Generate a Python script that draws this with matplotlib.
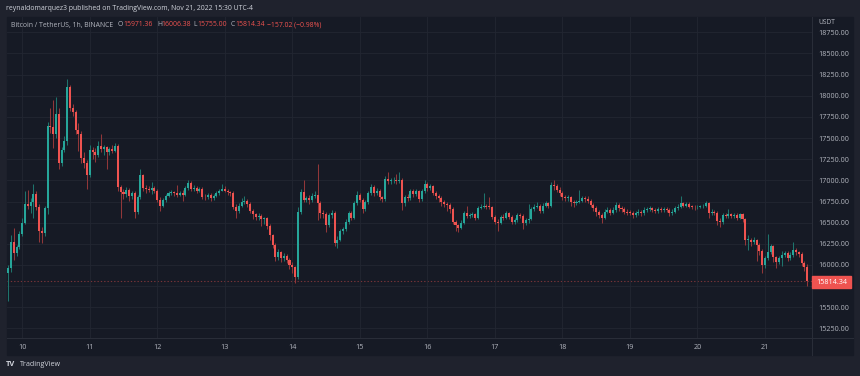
"""
BTC/USDT 1h candles, Binance, Nov 9 19:00 to Nov 21 15:00 (UTC-4)
TradingView dark theme look-alike
"""
import numpy as np
import matplotlib.pyplot as plt
from matplotlib.patches import Rectangle
from matplotlib.lines import Line2D

#%% Data (one value per hourly candle)
first_open = 15900.0

close = [
    15960, 16270, 16140, 16210, 16370,                       # Nov 9 19:00-23:00
    16500, 16720, 16700, 16745, 16840, 16690, 16400, 16380,  # Nov 10
    16670, 17640, 17630, 17550, 17790, 17200, 17360, 17460,
    18100, 17860, 17810, 17600, 17550, 17270, 17210, 17065,
    17360, 17330, 17300, 17410, 17370, 17390, 17330, 17370,  # Nov 11
    17350, 17410, 16920, 16860, 16840, 16890, 16810, 16850,
    16625, 16800, 17065, 16910, 16900, 16890, 16910, 16880,
    16770, 16700, 16770, 16815, 16850, 16865, 16845, 16830,  # Nov 12
    16850, 16830, 16910, 16970, 16900, 16910, 16880, 16900,
    16805, 16800, 16830, 16790, 16820, 16850, 16880, 16900,
    16880, 16860, 16850, 16690, 16640, 16700, 16740, 16760,  # Nov 13
    16720, 16640, 16600, 16570, 16580, 16540, 16550, 16460,
    16350, 16240, 16100, 16150, 16080, 16110, 16060, 16000,
    15975, 15860, 16630, 16860, 16770, 16790, 16770, 16815,  # Nov 14
    16830, 16730, 16615, 16600, 16470, 16590, 16615, 16260,
    16300, 16400, 16420, 16510, 16615, 16560, 16730, 16830,
    16770, 16660, 16745, 16850, 16920, 16850, 16880, 16800,  # Nov 15
    16780, 17020, 16990, 17000, 17005, 16990, 17010, 16730,
    16800, 16790, 16880, 16840, 16870, 16780, 16870, 16960,
    16910, 16930, 16850, 16815, 16790, 16745, 16720, 16710,  # Nov 16
    16660, 16510, 16470, 16440, 16500, 16615, 16580, 16590,
    16600, 16560, 16675, 16690, 16700, 16690, 16685, 16570,
    16510, 16500, 16570, 16560, 16615, 16570, 16510, 16530,  # Nov 17
    16590, 16580, 16500, 16530, 16545, 16660, 16690, 16700,
    16640, 16700, 16730, 16700, 16945, 16930, 16890, 16850,
    16800, 16790, 16800, 16745, 16730, 16745, 16760, 16790,  # Nov 18
    16780, 16760, 16710, 16670, 16630, 16595, 16555, 16630,
    16650, 16620, 16650, 16710, 16670, 16660, 16630, 16620,
    16615, 16595, 16615, 16630, 16610, 16650, 16660, 16670,  # Nov 19
    16650, 16640, 16660, 16650, 16665, 16655, 16610, 16630,
    16670, 16690, 16735, 16700, 16720, 16690, 16685, 16680,
    16690, 16692, 16700, 16735, 16615, 16630, 16620, 16520,  # Nov 20
    16510, 16590, 16580, 16600, 16580, 16595, 16560, 16600,
    16540, 16295, 16300, 16270, 16290, 16235, 16170, 16000,
    16080, 16155, 16225, 16095, 16035, 16080, 16120, 16140,  # Nov 21
    16080, 16120, 16180, 16150, 16130, 16025, 15971.36, 15814.34,
]

high = [
    16000, 16350, 16440, 16240, 16400,
    16560, 16870, 16890, 16790, 16960, 16880, 16720, 16450,
    16700, 17690, 17860, 17950, 17980, 17850, 17400, 17520,
    18200, 18130, 17900, 17830, 17680, 17580, 17330, 17240,
    17420, 17400, 17380, 17470, 17550, 17420, 17410, 17400,
    17420, 17440, 17430, 16950, 16900, 16920, 16910, 16880,
    16870, 16830, 17130, 17080, 16950, 16930, 16980, 16930,
    16900, 16800, 16790, 16840, 16870, 16890, 16880, 16950,
    16870, 16890, 16930, 17000, 16990, 16940, 16930, 16920,
    16920, 16840, 16850, 16850, 16840, 16870, 16900, 16960,
    16930, 16900, 16880, 16870, 16720, 16730, 16790, 16810,
    16780, 16740, 16660, 16620, 16610, 16600, 16570, 16570,
    16480, 16370, 16260, 16190, 16170, 16140, 16130, 16080,
    16030, 15990, 16680, 16900, 17000, 16820, 16830, 16850,
    16880, 17195, 16760, 16650, 16630, 16620, 16650, 16640,
    16340, 16430, 16450, 16540, 16640, 16640, 16760, 16870,
    16850, 16790, 16770, 16880, 16960, 16940, 16910, 16900,
    16820, 17050, 17100, 17030, 17040, 17080, 17100, 17030,
    16830, 16840, 16900, 16900, 16900, 16890, 16900, 17000,
    16980, 16960, 16950, 16870, 16840, 16810, 16770, 16750,
    16730, 16680, 16530, 16490, 16530, 16640, 16700, 16620,
    16630, 16620, 16700, 16720, 16850, 16720, 16800, 16700,
    16590, 16540, 16590, 16600, 16640, 16630, 16590, 16560,
    16620, 16620, 16600, 16560, 16720, 16690, 16720, 16740,
    16720, 16730, 16760, 16750, 16980, 17005, 16960, 16920,
    16870, 16830, 16830, 16820, 16770, 16770, 16890, 16810,
    16820, 16810, 16780, 16730, 16700, 16650, 16620, 16660,
    16680, 16670, 16680, 16740, 16730, 16700, 16680, 16660,
    16650, 16640, 16640, 16660, 16650, 16680, 16690, 16700,
    16690, 16670, 16690, 16680, 16690, 16690, 16670, 16660,
    16700, 16720, 16810, 16750, 16750, 16740, 16710, 16710,
    16710, 16710, 16720, 16760, 16750, 16660, 16650, 16640,
    16550, 16620, 16620, 16660, 16620, 16620, 16610, 16620,
    16620, 16560, 16360, 16320, 16330, 16310, 16260, 16190,
    16110, 16370, 16250, 16240, 16110, 16110, 16170, 16160,
    16160, 16150, 16270, 16200, 16170, 16150, 16050, 16006.38,
]

low = [
    15580, 15920, 16060, 16110, 16190,
    16340, 16480, 16660, 16620, 16560, 16650, 16270, 16260,
    16340, 16600, 17560, 17380, 17500, 17130, 17170, 17330,
    17420, 17820, 17760, 17550, 17350, 17200, 17150, 16900,
    17040, 17250, 17220, 17280, 17340, 17300, 17140, 17300,
    17320, 17330, 16880, 16560, 16780, 16800, 16760, 16780,
    16560, 16600, 16780, 16870, 16850, 16860, 16840, 16850,
    16740, 16640, 16690, 16750, 16800, 16830, 16820, 16800,
    16810, 16760, 16810, 16890, 16880, 16870, 16850, 16860,
    16780, 16770, 16780, 16760, 16770, 16800, 16830, 16870,
    16860, 16830, 16820, 16660, 16560, 16620, 16680, 16720,
    16690, 16610, 16540, 16530, 16530, 16460, 16480, 16420,
    16300, 16200, 16050, 16060, 16040, 16050, 16020, 15950,
    15900, 15790, 15840, 16600, 16740, 16750, 16720, 16750,
    16790, 16530, 16560, 16560, 16390, 16450, 16560, 16230,
    16200, 16280, 16370, 16400, 16490, 16530, 16540, 16710,
    16740, 16620, 16640, 16720, 16830, 16820, 16830, 16770,
    16740, 16760, 16960, 16960, 16970, 16960, 16970, 16650,
    16700, 16760, 16770, 16800, 16820, 16750, 16760, 16850,
    16880, 16890, 16830, 16780, 16740, 16700, 16680, 16640,
    16620, 16480, 16400, 16390, 16420, 16480, 16560, 16560,
    16570, 16530, 16540, 16660, 16670, 16660, 16660, 16540,
    16480, 16400, 16480, 16530, 16540, 16540, 16480, 16490,
    16510, 16550, 16430, 16470, 16500, 16530, 16640, 16670,
    16610, 16620, 16680, 16670, 16680, 16890, 16860, 16820,
    16770, 16760, 16760, 16700, 16690, 16710, 16730, 16740,
    16750, 16730, 16680, 16640, 16580, 16550, 16500, 16540,
    16610, 16590, 16600, 16630, 16640, 16630, 16600, 16590,
    16590, 16560, 16570, 16590, 16580, 16590, 16630, 16640,
    16630, 16610, 16620, 16630, 16630, 16630, 16580, 16590,
    16610, 16650, 16670, 16680, 16680, 16670, 16660, 16650,
    16660, 16670, 16670, 16690, 16560, 16590, 16590, 16470,
    16450, 16490, 16550, 16560, 16550, 16560, 16530, 16540,
    16510, 16240, 16180, 16230, 16250, 16050, 16120, 15910,
    15970, 16060, 16130, 16030, 15960, 16010, 15990, 16090,
    16050, 16060, 16100, 16120, 16100, 15990, 15930, 15755,
]

day_labels = ['10', '11', '12', '13', '14', '15', '16', '17', '18', '19', '20', '21']
first_day_hour = 5      # candle index of Nov 10 00:00
price_ticks = np.arange(15250, 18751, 250)

header = "reynaldomarquez3 published on TradingView.com, Nov 21, 2022 15:30 UTC-4"
symbol = "Bitcoin / TetherUS, 1h, BINANCE"
change_txt = "\u2212157.02 (\u22120.98%)"

#%% Colors
UP = '#26a69a'
DOWN = '#ef5350'
PANE = '#161a25'
OUTER = '#1f222d'
GRID = '#222632'
TEXT = '#b2b5be'

plt.rcParams['font.family'] = ['Open Sans', 'DejaVu Sans']

close = np.array(close, dtype=float)
high = np.array(high, dtype=float)
low = np.array(low, dtype=float)
opn = np.concatenate([[first_open], close[:-1]])
x = np.arange(len(close))
up = close >= opn

W, H = 860, 376
fig = plt.figure(figsize=(W / 100, H / 100), dpi=100)
fig.patch.set_facecolor(OUTER)

def fx(px):
    return px / W

def fy(py):
    return 1 - py / H

# pane (chart + both axes), drawn behind everything
fig.patches.append(Rectangle((fx(7), fy(355)), fx(853) - fx(7), fy(17) - fy(355),
                             transform=fig.transFigure, color=PANE, zorder=-10))

ax = fig.add_axes([fx(7), fy(338), (812 - 7) / W, (338 - 17) / H])
ax.set_zorder(1)
ax.set_facecolor(PANE)
for s in ax.spines.values():
    s.set_visible(False)

# wicks then bodies
wick_col = np.where(up, '#1e746c', '#913739')
ax.vlines(x, low, high, colors=wick_col, lw=0.75, zorder=2)
body_col = np.where(up, UP, DOWN)
body_h = np.maximum(np.abs(close - opn), 9)
ax.bar(x, body_h, bottom=np.minimum(close, opn), width=0.72, color=body_col,
       lw=0, zorder=3)

# last price line
ax.axhline(close[-1], color=DOWN, lw=0.8, ls=(0, (1.2, 1.8)), alpha=0.45, zorder=1)

ax.set_xlim(-0.4, 285.7)
ax.set_ylim(15137, 18931)

ax.yaxis.tick_right()
ax.set_yticks(price_ticks)
ax.set_yticklabels([f"{p:.2f}" for p in price_ticks])
ax.set_xticks([first_day_hour + 24 * k for k in range(len(day_labels))])
ax.set_xticklabels(day_labels)
ax.tick_params(axis='y', length=0, pad=4.8, labelsize=5.2, labelcolor=TEXT)
ax.tick_params(axis='x', length=0, pad=4.3, labelsize=5.2, labelcolor=TEXT)
ax.grid(True, color=GRID, lw=0.6, zorder=0)

# axis separators
fig.add_artist(Line2D([fx(812), fx(812)], [fy(17), fy(355)], color='#2a2e39', lw=0.7))
fig.add_artist(Line2D([fx(7), fx(853)], [fy(338), fy(338)], color='#2a2e39', lw=0.7))

# last price tag (covers the 15750 label as on the original)
tag = Rectangle((fx(812), fy(288)), fx(851) - fx(812), fy(276) - fy(288),
                transform=fig.transFigure, color=DOWN, zorder=5)
fig.add_artist(tag)
fig.text(fx(831.5), fy(282), f"{close[-1]:.2f}", color='white', fontsize=5.2,
         ha='center', va='center', zorder=6)
fig.text(fx(818), fy(23), "USDT", color=TEXT, fontsize=4.8, va='center')

# header lines
fig.text(fx(6), fy(9), header, color='#d1d4dc', fontsize=4.95, va='center')
fig.text(fx(11), fy(25), symbol, color=TEXT, fontsize=4.95, va='center')
ohlc = [('O', 118, 123, f"{opn[-1]:.2f}"), ('H', 157, 161, f"{high[-1]:.2f}"),
        ('L', 193, 197, f"{low[-1]:.2f}"), ('C', 230.5, 235, f"{close[-1]:.2f}")]
for lab, xl, xv, val in ohlc:
    fig.text(fx(xl), fy(25), lab, color=TEXT, fontsize=4.95, va='center')
    fig.text(fx(xv), fy(25), val, color=DOWN, fontsize=4.95, va='center')
fig.text(fx(267), fy(25), change_txt, color=DOWN, fontsize=4.95, va='center')

# footer logo
fig.text(fx(6), fy(365), "TV", color='#d1d4dc', fontsize=5.4, fontweight='bold', va='center')
fig.text(fx(20), fy(365), "TradingView", color='#d1d4dc', fontsize=5.1, va='center')

fig.savefig('out.png', dpi=100, facecolor=fig.get_facecolor())
